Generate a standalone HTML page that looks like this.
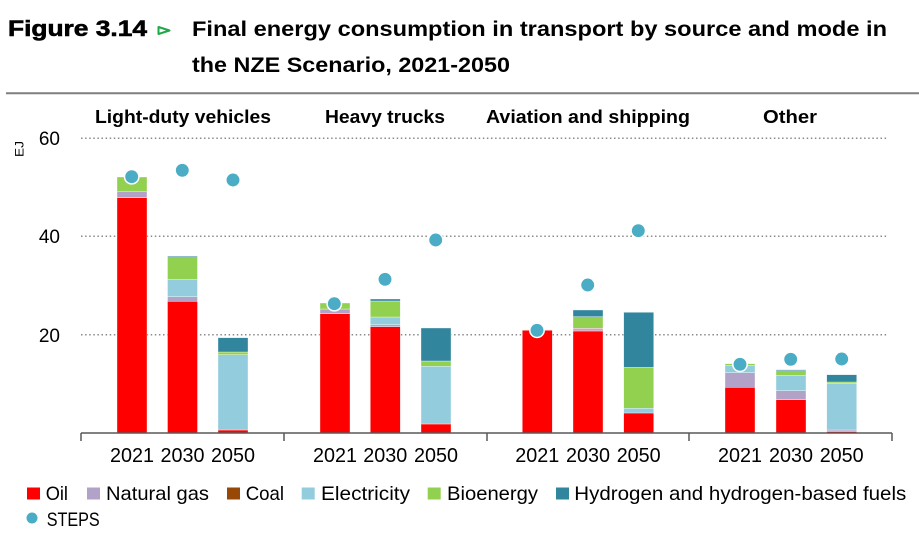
<!DOCTYPE html>
<html><head><meta charset="utf-8"><style>
html,body{margin:0;padding:0;background:#fff;}
svg{display:block;}
text{font-family:"Liberation Sans",sans-serif;fill:#000;}
</style></head><body>
<svg width="919" height="543" viewBox="0 0 919 543" xmlns="http://www.w3.org/2000/svg">
<!-- Title -->
<text x="8" y="36" font-size="22" font-weight="bold" textLength="139" lengthAdjust="spacingAndGlyphs" stroke="#000" stroke-width="0.6">Figure 3.14</text>
<polygon points="158.5,27 169.5,30.5 158.5,34" fill="none" stroke="#1fa84a" stroke-width="2" stroke-linejoin="round"/>
<text x="192" y="36" font-size="21" font-weight="bold" textLength="695" lengthAdjust="spacingAndGlyphs">Final energy consumption in transport by source and mode in</text>
<text x="192" y="72" font-size="21" font-weight="bold" textLength="318" lengthAdjust="spacingAndGlyphs">the NZE Scenario, 2021-2050</text>
<line x1="6" y1="93.3" x2="919" y2="93.3" stroke="#7f7f7f" stroke-width="2"/>

<!-- Group headers -->
<text x="95" y="123" font-size="18" font-weight="bold" textLength="176" lengthAdjust="spacingAndGlyphs">Light-duty vehicles</text>
<text x="325" y="123" font-size="18" font-weight="bold" textLength="120" lengthAdjust="spacingAndGlyphs">Heavy trucks</text>
<text x="486" y="123" font-size="18" font-weight="bold" textLength="204" lengthAdjust="spacingAndGlyphs">Aviation and shipping</text>
<text x="763" y="123" font-size="18" font-weight="bold" textLength="54" lengthAdjust="spacingAndGlyphs">Other</text>

<!-- Grid -->
<g stroke="#8a8a8a" stroke-width="1.5" stroke-dasharray="1.5 2.6">
<line x1="81" y1="138.3" x2="888" y2="138.3"/>
<line x1="81" y1="236.3" x2="888" y2="236.3"/>
<line x1="81" y1="334.7" x2="888" y2="334.7"/>
</g>
<!-- Y labels -->
<g font-size="19" text-anchor="end">
<text x="60" y="145">60</text>
<text x="60" y="243">40</text>
<text x="60" y="342">20</text>
</g>
<text transform="translate(23.5,149) rotate(-90)" font-size="12" text-anchor="middle" textLength="16" lengthAdjust="spacingAndGlyphs">EJ</text>

<!-- Bars -->
<g stroke="#ffffff" stroke-width="0.5" stroke-opacity="0.7">
<!-- G1 2021 -->
<rect x="117" y="197.7" width="30" height="235.3" fill="#ff0000"/>
<rect x="117" y="191.3" width="30" height="6.4" fill="#b3a2c7"/>
<rect x="117" y="177" width="30" height="14.3" fill="#92d050"/>
<!-- G1 2030 -->
<rect x="167.5" y="301.3" width="30" height="131.7" fill="#ff0000"/>
<rect x="167.5" y="296.7" width="30" height="4.6" fill="#b3a2c7"/>
<rect x="167.5" y="279.3" width="30" height="17.4" fill="#93cddd"/>
<rect x="167.5" y="257.7" width="30" height="21.6" fill="#92d050"/>
<rect x="167.5" y="256.3" width="30" height="1.4" fill="#31859c"/>
<!-- G1 2050 -->
<rect x="218" y="430" width="30" height="3" fill="#ff0000"/>
<rect x="218" y="354.7" width="30" height="75.3" fill="#93cddd"/>
<rect x="218" y="352" width="30" height="2.7" fill="#92d050"/>
<rect x="218" y="337.7" width="30" height="14.3" fill="#31859c"/>
<!-- G2 2021 -->
<rect x="320" y="313.7" width="30" height="119.3" fill="#ff0000"/>
<rect x="320" y="309" width="30" height="4.7" fill="#b3a2c7"/>
<rect x="320" y="303" width="30" height="6" fill="#92d050"/>
<!-- G2 2030 -->
<rect x="370.3" y="326.7" width="30" height="106.3" fill="#ff0000"/>
<rect x="370.3" y="324.7" width="30" height="2" fill="#b3a2c7"/>
<rect x="370.3" y="317" width="30" height="7.7" fill="#93cddd"/>
<rect x="370.3" y="301" width="30" height="16" fill="#92d050"/>
<rect x="370.3" y="299" width="30" height="2" fill="#31859c"/>
<!-- G2 2050 -->
<rect x="421" y="424" width="30" height="9" fill="#ff0000"/>
<rect x="421" y="366.3" width="30" height="57.7" fill="#93cddd"/>
<rect x="421" y="361" width="30" height="5.3" fill="#92d050"/>
<rect x="421" y="328" width="30" height="33" fill="#31859c"/>
<!-- G3 2021 -->
<rect x="522.3" y="330.3" width="30" height="102.7" fill="#ff0000"/>
<!-- G3 2030 -->
<rect x="573" y="331" width="30" height="102" fill="#ff0000"/>
<rect x="573" y="328.3" width="30" height="2.7" fill="#d9a0b8"/>
<rect x="573" y="316.7" width="30" height="11.6" fill="#92d050"/>
<rect x="573" y="310" width="30" height="6.7" fill="#31859c"/>
<!-- G3 2050 -->
<rect x="623.7" y="413" width="30" height="20" fill="#ff0000"/>
<rect x="623.7" y="408.3" width="30" height="4.7" fill="#93cddd"/>
<rect x="623.7" y="367.3" width="30" height="41" fill="#92d050"/>
<rect x="623.7" y="312.3" width="30" height="55" fill="#31859c"/>
<!-- G4 2021 -->
<rect x="725" y="387.3" width="30" height="45.7" fill="#ff0000"/>
<rect x="725" y="372.7" width="30" height="14.6" fill="#b3a2c7"/>
<rect x="725" y="365.3" width="30" height="7.4" fill="#93cddd"/>
<rect x="725" y="363.7" width="30" height="1.6" fill="#92d050"/>
<!-- G4 2030 -->
<rect x="776" y="399.7" width="30" height="33.3" fill="#ff0000"/>
<rect x="776" y="390.7" width="30" height="9" fill="#b3a2c7"/>
<rect x="776" y="375.3" width="30" height="15.4" fill="#93cddd"/>
<rect x="776" y="370.7" width="30" height="4.6" fill="#92d050"/>
<rect x="776" y="369.7" width="30" height="1" fill="#31859c"/>
<!-- G4 2050 -->
<rect x="826.7" y="431.5" width="30" height="1.5" fill="#ff0000"/>
<rect x="826.7" y="430" width="30" height="1.5" fill="#b3a2c7"/>
<rect x="826.7" y="383.3" width="30" height="46.7" fill="#93cddd"/>
<rect x="826.7" y="382" width="30" height="1.3" fill="#92d050"/>
<rect x="826.7" y="374.7" width="30" height="7.3" fill="#31859c"/>
</g>

<!-- Axis -->
<g stroke="#595959" stroke-width="1.5">
<line x1="81" y1="433" x2="892" y2="433"/>
<line x1="81" y1="433" x2="81" y2="441"/>
<line x1="284" y1="433" x2="284" y2="441"/>
<line x1="487" y1="433" x2="487" y2="441"/>
<line x1="689" y1="433" x2="689" y2="441"/>
<line x1="892" y1="433" x2="892" y2="441"/>
</g>

<!-- STEPS dots -->
<g fill="#4bacc6" stroke="#ffffff" stroke-width="1.5">
<circle cx="131.7" cy="176.7" r="7.2"/>
<circle cx="182.3" cy="170.3" r="7.2"/>
<circle cx="233" cy="180" r="7.2"/>
<circle cx="334.3" cy="303.7" r="7.2"/>
<circle cx="385" cy="279.3" r="7.2"/>
<circle cx="435.7" cy="240" r="7.2"/>
<circle cx="537" cy="330.3" r="7.2"/>
<circle cx="587.7" cy="285" r="7.2"/>
<circle cx="638.3" cy="230.7" r="7.2"/>
<circle cx="740" cy="364.3" r="7.2"/>
<circle cx="790.7" cy="359.3" r="7.2"/>
<circle cx="841.7" cy="359" r="7.2"/>
</g>

<!-- X labels -->
<g font-size="20" text-anchor="middle">
<text x="132" y="462" textLength="44" lengthAdjust="spacingAndGlyphs">2021</text>
<text x="182.5" y="462" textLength="44" lengthAdjust="spacingAndGlyphs">2030</text>
<text x="233" y="462" textLength="44" lengthAdjust="spacingAndGlyphs">2050</text>
<text x="335" y="462" textLength="44" lengthAdjust="spacingAndGlyphs">2021</text>
<text x="385.3" y="462" textLength="44" lengthAdjust="spacingAndGlyphs">2030</text>
<text x="436" y="462" textLength="44" lengthAdjust="spacingAndGlyphs">2050</text>
<text x="537.3" y="462" textLength="44" lengthAdjust="spacingAndGlyphs">2021</text>
<text x="588" y="462" textLength="44" lengthAdjust="spacingAndGlyphs">2030</text>
<text x="638.7" y="462" textLength="44" lengthAdjust="spacingAndGlyphs">2050</text>
<text x="740" y="462" textLength="44" lengthAdjust="spacingAndGlyphs">2021</text>
<text x="791" y="462" textLength="44" lengthAdjust="spacingAndGlyphs">2030</text>
<text x="841.7" y="462" textLength="44" lengthAdjust="spacingAndGlyphs">2050</text>
</g>

<!-- Legend -->
<rect x="27" y="487.5" width="13" height="12" fill="#ff0000"/>
<rect x="87" y="487.5" width="13" height="12" fill="#b3a2c7"/>
<rect x="227" y="487.5" width="13" height="12" fill="#974706"/>
<rect x="301.7" y="487.5" width="13" height="12" fill="#93cddd"/>
<rect x="427.7" y="487.5" width="13" height="12" fill="#92d050"/>
<rect x="556" y="487.5" width="13" height="12" fill="#31859c"/>
<g font-size="19.5">
<text x="45.7" y="500" textLength="22.3" lengthAdjust="spacingAndGlyphs">Oil</text>
<text x="106" y="500" textLength="103" lengthAdjust="spacingAndGlyphs">Natural gas</text>
<text x="245.7" y="500" textLength="38.3" lengthAdjust="spacingAndGlyphs">Coal</text>
<text x="321" y="500" textLength="89" lengthAdjust="spacingAndGlyphs">Electricity</text>
<text x="447" y="500" textLength="91" lengthAdjust="spacingAndGlyphs">Bioenergy</text>
<text x="574.3" y="500" textLength="332" lengthAdjust="spacingAndGlyphs">Hydrogen and hydrogen-based fuels</text>
<text x="46.7" y="526" textLength="53" lengthAdjust="spacingAndGlyphs">STEPS</text>
</g>
<circle cx="32" cy="518" r="5.5" fill="#4bacc6"/>
</svg>
</body></html>
